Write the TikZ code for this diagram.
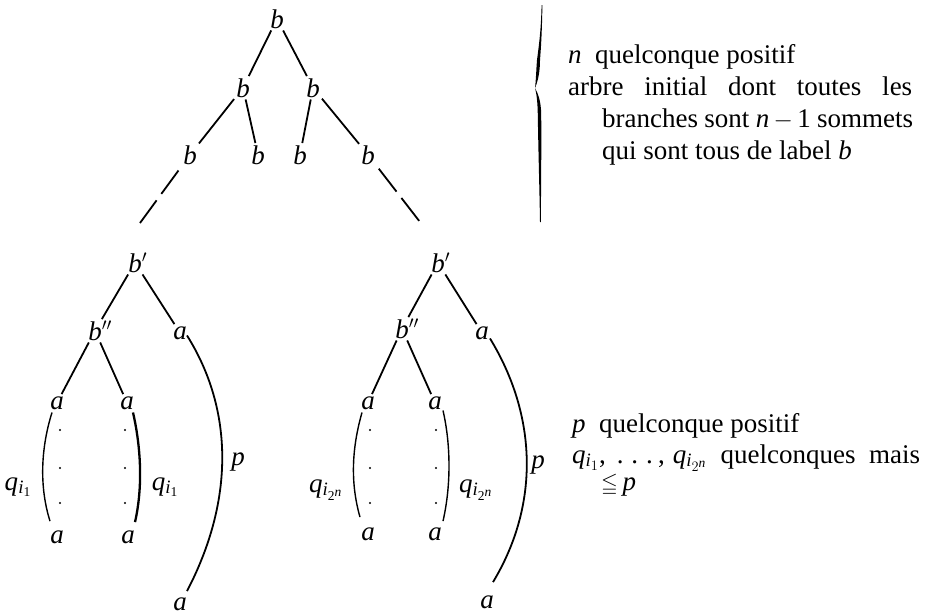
\documentclass[tikz,border=0pt]{standalone}
\usepackage{amsmath,amssymb}
\usepackage{graphicx}
\usepackage{fontspec}
\setmainfont{Liberation Serif}
\usetikzlibrary{calc}
\begin{document}
\begin{tikzpicture}[x=1pt,y=-1pt,
  lab/.style={font=\fontsize{27}{32}\selectfont\itshape, inner sep=2pt, anchor=base},
  txt/.style={font=\fontsize{27}{32}\selectfont, inner sep=0pt, anchor=base west},
  edge/.style={line width=1.8pt},
  thinarc/.style={line width=1.4pt},
  thickarc/.style={line width=2.3pt},
  bigarc/.style={line width=1.8pt},
  dashedge/.style={line width=1.8pt, dash pattern=on 29pt off 8pt}]
\useasboundingbox (0,0) rectangle (925,614);

% ---------- top tree ----------
\node[lab] (r)  at (277,28)  {b};
\node[lab] (u1) at (243,97)  {b};
\node[lab] (u2) at (313,97)  {b};
\node[lab] (v1) at (190,164) {b};
\node[lab] (v2) at (258,164) {b};
\node[lab] (v3) at (300,164) {b};
\node[lab] (v4) at (368,164) {b};
\coordinate (w1) at (140,223);
\coordinate (w2) at (420,222);
\draw[edge] (r) -- (u1);
\draw[edge] (r) -- (u2);
\draw[edge] (u1) -- (v1);
\draw[edge] (u1) -- (v2);
\draw[edge] (u2) -- (v3);
\draw[edge] (u2) -- (v4);
\draw[dashedge, shorten <=5pt] (v1) -- (w1);
\draw[dashedge, shorten <=3pt] (v4) -- (w2);

% ---------- left lower tree ----------
\node[lab] (B1) at (135,272) {b\rlap{$'$}};
\node[lab] (B2) at (95,340)  {b\rlap{$''$}};
\node[lab] (A1) at (180,339) {a};
\node[lab] (A2) at (57,409)  {a};
\node[lab] (A3) at (127,409) {a};
\node[lab] (A4) at (57,543)  {a};
\node[lab] (A5) at (128,543) {a};
\node[lab] (A6) at (180,610) {a};
\draw[edge] (B1) -- (B2);
\draw[edge] (B1) -- (A1);
\draw[edge] (B2) -- (A2);
\draw[edge] (B2) -- (A3);
\draw[thinarc] ($(A2.south)+(-5,1)$) .. controls +(-11,35) and +(-11,-35) .. ($(A4.north)+(-7,-7)$);
\draw[thickarc] ($(A3.south)+(6,1)$) .. controls +(8,35) and +(8,-35) .. ($(A5.north)+(7,-6)$);
\draw[bigarc] ($(A1.south)+(7,-6)$) .. controls +(47,75) and +(47,-90) .. ($(A6.north)+(7,-4)$);
\foreach \yy in {430,468,503} {
  \fill (60,\yy) circle (1.1pt);
  \fill (125,\yy) circle (1.1pt);
}
\node[lab] (q1) at (18,490)  {q$_{\textit{i}_{\textup{1}}}$};
\node[lab] (q2) at (165,490) {q$_{\textit{i}_{\textup{1}}}$};
\node[lab] (p1) at (238,465) {p};

% ---------- right lower tree ----------
\node[lab] (C1) at (438,272) {b\rlap{$'$}};
\node[lab] (C2) at (402,338) {b\rlap{$''$}};
\node[lab] (D1) at (482,339) {a};
\node[lab] (D2) at (368,409) {a};
\node[lab] (D3) at (435,409) {a};
\node[lab] (D4) at (368,540) {a};
\node[lab] (D5) at (435,540) {a};
\node[lab] (D6) at (487,608) {a};
\draw[edge] (C1) -- (C2);
\draw[edge] (C1) -- (D1);
\draw[edge] (C2) -- (D2);
\draw[edge] (C2) -- (D3);
\draw[thinarc] ($(D2.south)+(-6,1)$) .. controls +(-10,35) and +(-10,-35) .. ($(D4.north)+(-8,-8)$);
\draw[thinarc] ($(D3.south)+(8,-1)$) .. controls +(8,35) and +(8,-35) .. ($(D5.north)+(8,-4)$);
\draw[bigarc] ($(D1.south)+(8,-3)$) .. controls +(47,77) and +(47,-78) .. ($(D6.north)+(6,-11)$);
\foreach \yy in {430,468,503} {
  \fill (370,\yy) circle (1.1pt);
  \fill (436,\yy) circle (1.1pt);
}
\node[lab] (q3) at (326,492) {q$_{\textit{i}_{\textup{2}^{\textit{n}}}}$};
\node[lab] (q4) at (476,492) {q$_{\textit{i}_{\textup{2}^{\textit{n}}}}$};
\node[lab] (p2) at (538,468) {p};

% ---------- brace ----------
\fill (541.6,5) .. controls (541,30) and (539,45) .. (537,60)
  .. controls (536.2,70) and (536,80) .. (535,88)
  .. controls (536.5,94) and (537.5,100) .. (537.8,115)
  .. controls (538.3,150) and (539.5,190) .. (540,222)
  -- (540.8,222)
  .. controls (541,190) and (541.5,150) .. (541.2,115)
  .. controls (541,100) and (538,94) .. (535,88)
  .. controls (538.5,80) and (540,70) .. (540,60)
  .. controls (541.2,45) and (542,30) .. (542.4,5) -- cycle;

% ---------- texts ----------
\node[txt] (t1) at (568,63)  {\textit{n}\ \ quelconque positif};
\node[txt] (t2) at (568,95)  {\makebox[344pt][s]{arbre initial dont toutes les}};
\node[txt] (t3) at (602,127) {\makebox[311pt][s]{branches sont \textit{n}${}-{}$1 sommets}};
\node[txt] (t4) at (602,159) {qui sont tous de label \textit{b}};
\node[txt] (t5) at (572,432) {\textit{p}\ \ quelconque positif};
\node[txt] (t6) at (572,463) {\makebox[348pt][s]{\textit{q}$_{\textit{i}_{1}}$,\hspace{11pt}.\hspace{8pt}.\hspace{8pt}.\hspace{5pt},\hspace{8pt}\textit{q}$_{\textit{i}_{2^{\textit{n}}}}$ quelconques mais}};
\node[txt] (t7) at (601,490) {\scalebox{0.8}{$\leqq$}\,\textit{p}};
\end{tikzpicture}
\end{document}
